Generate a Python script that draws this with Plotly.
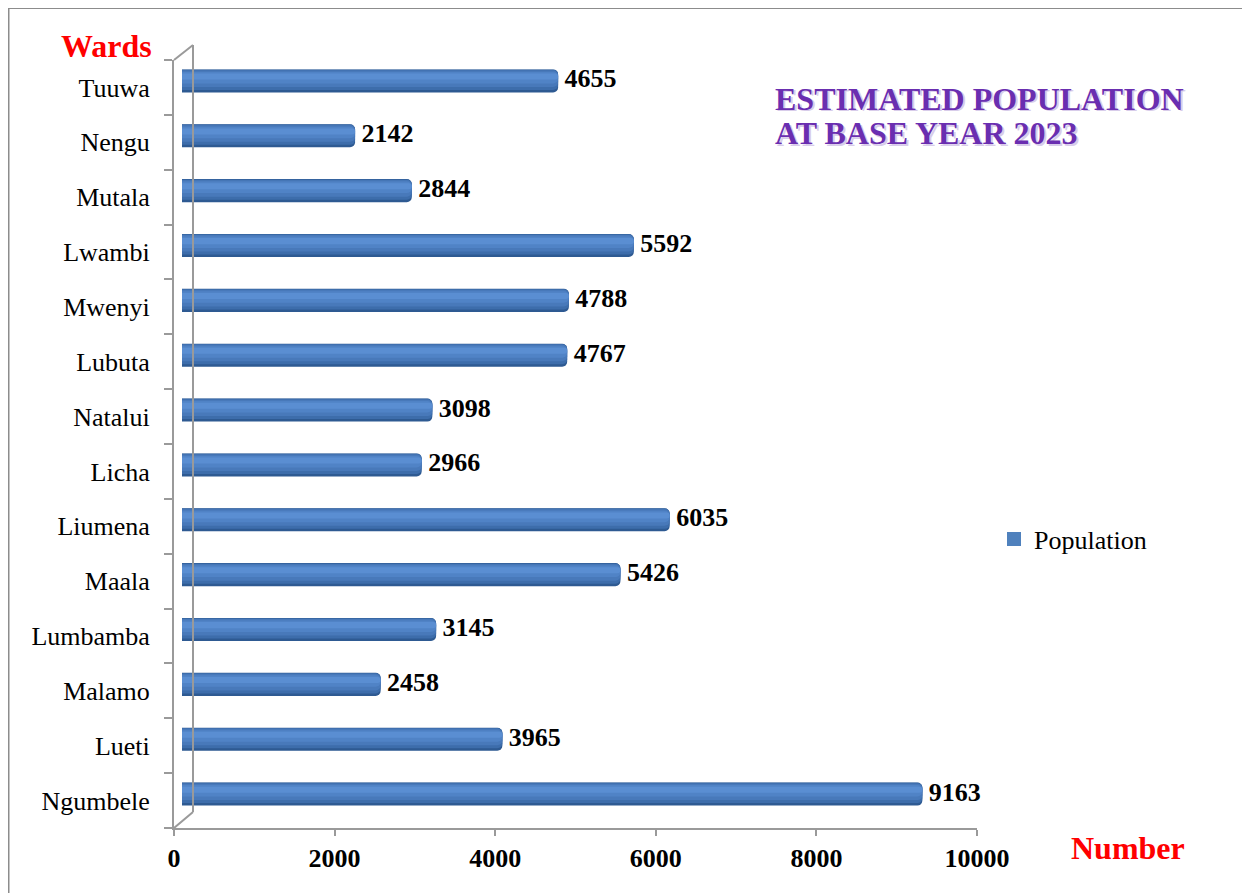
import plotly.graph_objects as go

# ---- data (top to bottom as shown) ----
wards = ["Tuuwa", "Nengu", "Mutala", "Lwambi", "Mwenyi", "Lubuta", "Natalui",
         "Licha", "Liumena", "Maala", "Lumbamba", "Malamo", "Lueti", "Ngumbele"]
population = [4655, 2142, 2844, 5592, 4788, 4767, 3098,
              2966, 6035, 5426, 3145, 2458, 3965, 9163]
x_ticks = [0, 2000, 4000, 6000, 8000, 10000]

# page is 1250x893; the html body has an 8px margin
PAGE_OFF = 8
W, H = 1250 - PAGE_OFF, 893 - PAGE_OFF
FONT = "Liberation Serif"


def fx(x):
    return (x - PAGE_OFF) / W


def fy(y):
    return 1 - (y - PAGE_OFF) / H


fig = go.Figure()

# cylinder-like bars: layered overlay bars on shifted (3-D depth) axes
layers = [
    dict(w=0.42, off=-0.21, color="#2E5A92"),
    dict(w=0.37, off=-0.205, color="#3D6DAB"),
    dict(w=0.30, off=-0.19, color="#4879BA"),
    dict(w=0.21, off=-0.165, color="#5083C6"),
    dict(w=0.11, off=-0.135, color="#5A8ED2"),
]
for L in layers:
    fig.add_trace(go.Bar(
        y=wards, x=population, orientation="h",
        xaxis="x2", yaxis="y2",
        width=[L["w"]] * len(wards), offset=[L["off"]] * len(wards),
        marker=dict(color=L["color"], cornerradius=5, line=dict(width=0)),
        name="Population", showlegend=False, hoverinfo="x+y",
    ))

# data labels
fig.add_trace(go.Scatter(
    y=wards, x=population, mode="text", xaxis="x2", yaxis="y2",
    text=[" " + str(v) for v in population], textposition="middle right",
    textfont=dict(family=FONT, size=26, color="black", weight="bold"),
    showlegend=False, hoverinfo="skip", cliponaxis=False,
))

# legend entry
fig.add_trace(go.Scatter(
    y=[None], x=[None], mode="markers", name="Population",
    marker=dict(color="#4F81BD", symbol="square", size=14), showlegend=True,
))

# geometry (page pixels)
x0, x1 = 174, 977
y_top, y_bot = 60, 828
bx0, bx1 = 182, 990
shift_up = 6.5
n = len(wards)

axis_col = "#9A9A9A"

fig.update_layout(
    width=W, height=H,
    margin=dict(l=0, r=0, t=0, b=0),
    paper_bgcolor="white", plot_bgcolor="rgba(0,0,0,0)",
    barmode="overlay",
    font=dict(family=FONT, color="black"),
    xaxis=dict(domain=[fx(x0), fx(x1)], range=[0, 10000], tickvals=x_ticks,
               ticktext=[str(v) for v in x_ticks],
               showgrid=False, zeroline=False, showline=True,
               linecolor=axis_col, linewidth=2, ticks="outside",
               ticklen=6, tickwidth=2, tickcolor=axis_col,
               tickfont=dict(family=FONT, size=26, color="black", weight="bold"),
               automargin=False, anchor="y", fixedrange=True),
    yaxis=dict(domain=[fy(y_bot), fy(y_top)], type="category",
               categoryorder="array", categoryarray=wards,
               range=[n - 0.5, -0.5], tickmode="array", tickvals=wards,
               ticktext=wards,
               showgrid=False, zeroline=False, showline=True,
               linecolor=axis_col, linewidth=2, ticks="outside",
               tickson="boundaries", ticklen=8, tickwidth=2, tickcolor=axis_col,
               tickfont=dict(family=FONT, size=26, color="black"),
               ticklabelstandoff=17,
               automargin=False, anchor="x", fixedrange=True),
    xaxis2=dict(domain=[fx(bx0), fx(bx1)], range=[0, 10000], visible=False,
                anchor="y2", fixedrange=True),
    yaxis2=dict(domain=[fy(y_bot - shift_up), fy(y_top - shift_up)],
                type="category", categoryorder="array", categoryarray=wards,
                range=[n - 0.5, -0.5], visible=False,
                anchor="x2", fixedrange=True),
    legend=dict(x=fx(994), y=fy(539), xanchor="left", yanchor="middle",
                font=dict(family=FONT, size=26, color="black"),
                bgcolor="rgba(0,0,0,0)", itemwidth=30, itemsizing="trace"),
    showlegend=True,
)

# 3-D wall outline and chart border
shapes = []


def line(xa, ya, xb, yb, color=axis_col, width=2):
    shapes.append(dict(type="line", xref="paper", yref="paper",
                       x0=fx(xa), y0=fy(ya), x1=fx(xb), y1=fy(yb),
                       line=dict(color=color, width=width)))


line(174, 60, 193, 45)
line(193, 45, 193, 812)
line(174, 828, 193, 812)
line(8, 7.5, 1250, 7.5, color="#8C8C8C", width=3)
line(8, 7.5, 8, 893, color="#8C8C8C", width=3)
fig.update_layout(shapes=shapes)


# annotations
def ann(text, x, y, size, color, bold=True, xanchor="center"):
    fig.add_annotation(text=text, x=fx(x), y=fy(y), xref="paper", yref="paper",
                       xanchor=xanchor, yanchor="middle", showarrow=False,
                       font=dict(family=FONT, size=size, color=color,
                                 weight="bold" if bold else "normal"))


ann("Wards", 106, 46, 32, "#FF0000")
ann("Number", 1128, 848, 32, "#FF0000")
ann("ESTIMATED POPULATION", 774.5, 100.5, 32, "#D8CCEA", xanchor="left")
ann("AT BASE YEAR 2023", 774.5, 134.5, 32, "#D8CCEA", xanchor="left")
ann("ESTIMATED POPULATION", 773, 99, 32, "#6A2EB0", xanchor="left")
ann("AT BASE YEAR 2023", 773, 133, 32, "#6A2EB0", xanchor="left")

fig.write_html("out.html")
